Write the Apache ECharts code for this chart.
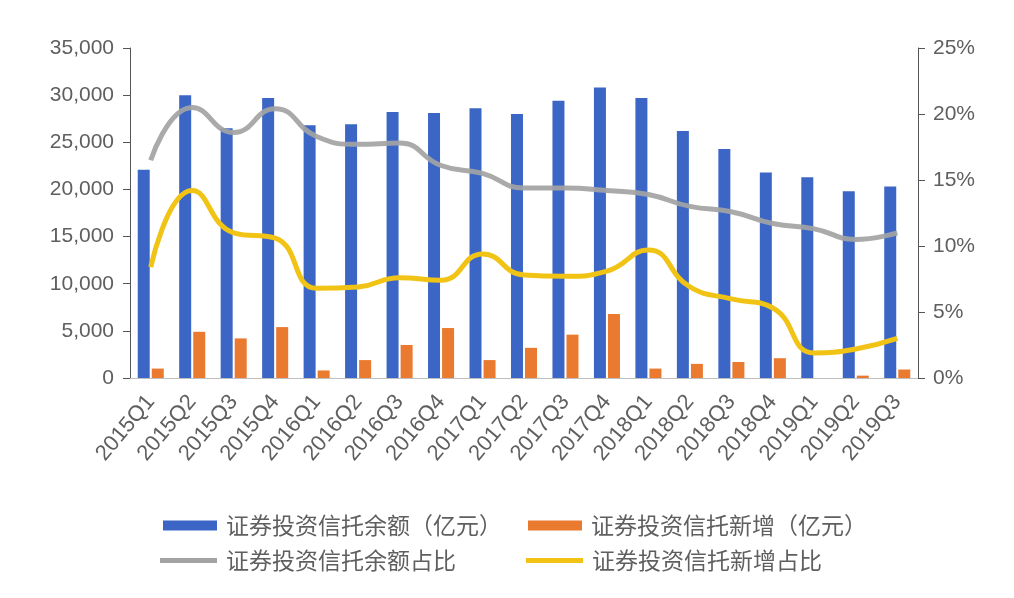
<!DOCTYPE html>
<html>
<head>
<meta charset="utf-8">
<script src="https://cdn.jsdelivr.net/npm/echarts@6/dist/echarts.min.js"></script>
<style>
html,body{margin:0;padding:0;background:#fff;}
#chart{width:1014px;height:598px;}
</style>
</head>
<body>
<div id="chart"></div>
<script>
const categories = ['2015Q1','2015Q2','2015Q3','2015Q4','2016Q1','2016Q2','2016Q3','2016Q4','2017Q1','2017Q2','2017Q3','2017Q4','2018Q1','2018Q2','2018Q3','2018Q4','2019Q1','2019Q2','2019Q3'];
const balance = [22100,30000,26500,29700,26800,26900,28200,28100,28600,28000,29400,30800,29700,26200,24300,21800,21300,19800,20300];
const newAdded = [1000,4900,4200,5400,800,1900,3500,5300,1900,3200,4600,6800,1000,1500,1700,2100,0,250,900];
const balanceShare = [16.5,20.5,18.6,20.4,18.3,17.7,17.8,16.1,15.5,14.4,14.4,14.2,13.9,13.0,12.6,11.7,11.3,10.5,11.0];
const newShare = [8.4,14.2,11.0,10.6,6.8,6.9,7.6,7.4,9.4,7.8,7.7,8.1,9.7,6.9,6.0,5.3,1.9,2.2,3.0];
const seriesNames = ['证券投资信托余额（亿元）','证券投资信托新增（亿元）','证券投资信托余额占比','证券投资信托新增占比'];

const numFont = '"Liberation Sans", Arial, sans-serif';
const cjkFont = '"Noto Sans CJK SC", sans-serif';
const txtColor = '#5f5f5f';

function fmtThousands(v){
  return String(v).replace(/\B(?=(\d{3})+(?!\d))/g, ',');
}

const chart = echarts.init(document.getElementById('chart'));
function legendAt(name, left, top, w, h){
  return {
    data:[name], left:left, top:top, itemWidth:w, itemHeight:h, icon:'rect',
    textStyle:{fontFamily:cjkFont, fontSize:23, color:txtColor, padding:[0,0,0,4]}
  };
}
chart.setOption({
  animation:false,
  grid:{left:130, right:96, top:48, bottom:220, containLabel:false},
  legend:[
    legendAt(seriesNames[0],158,509,54,10),
    legendAt(seriesNames[1],523,509,54,10),
    legendAt(seriesNames[2],155,544,57,5),
    legendAt(seriesNames[3],521,544,57,5)
  ],
  xAxis:{
    type:'category', data:categories,
    axisLine:{lineStyle:{color:'#bfbfbf', width:1}},
    axisTick:{show:false},
    axisLabel:{rotate:50, interval:0, fontFamily:numFont, fontSize:22, color:txtColor, margin:20}
  },
  yAxis:[
    {type:'value', min:0, max:35000, interval:5000, position:'left',
     axisLine:{show:true, lineStyle:{color:'#555', width:1}},
     axisTick:{show:true, length:7, lineStyle:{color:'#555'}},
     splitLine:{show:false},
     axisLabel:{fontFamily:numFont, fontSize:21, color:txtColor, margin:16, formatter:fmtThousands}},
    {type:'value', min:0, max:25, interval:5, position:'right',
     axisLine:{show:true, lineStyle:{color:'#555', width:1}},
     axisTick:{show:true, length:7, lineStyle:{color:'#555'}},
     splitLine:{show:false},
     axisLabel:{fontFamily:numFont, fontSize:21, color:txtColor, margin:15, formatter:'{value}%'}}
  ],
  series:[
    {name:seriesNames[0], type:'bar', data:balance, barWidth:12, barGap:'17%', itemStyle:{color:'#3b66c6'}},
    {name:seriesNames[1], type:'bar', data:newAdded, barWidth:12, itemStyle:{color:'#ea7a2f'}},
    {name:seriesNames[2], type:'line', yAxisIndex:1, data:balanceShare, smooth:0.5, symbol:'none',
     lineStyle:{color:'#a3a3a3', width:5, opacity:0.92}, itemStyle:{color:'#a3a3a3'}},
    {name:seriesNames[3], type:'line', yAxisIndex:1, data:newShare, smooth:0.5, symbol:'none',
     lineStyle:{color:'#f0c315', width:5}, itemStyle:{color:'#f0c315'}}
  ]
});
</script>
</body>
</html>
